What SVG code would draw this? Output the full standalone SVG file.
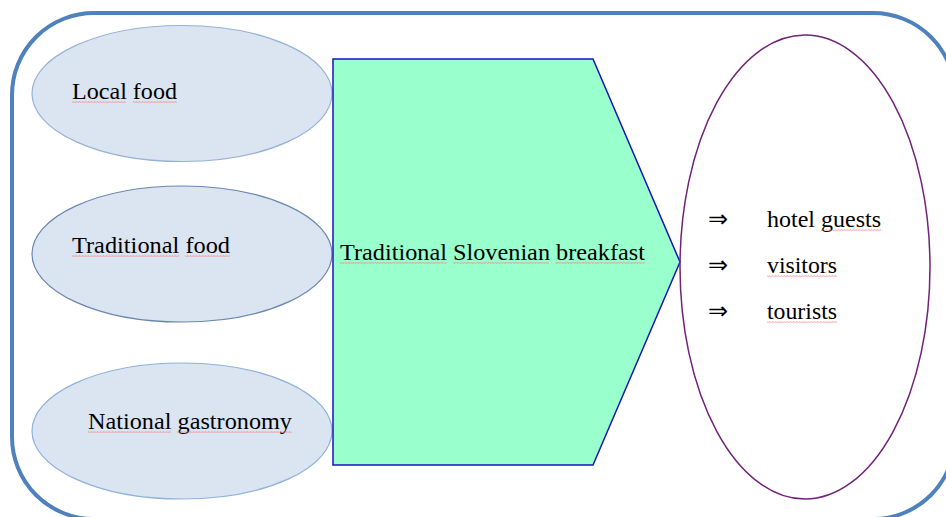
<svg xmlns="http://www.w3.org/2000/svg" width="946" height="517" viewBox="0 0 946 517">
<style>
.t{font-family:"Liberation Serif","Times New Roman",serif;font-size:24px;fill:#000}
.in{fill:#dbe5f1;stroke-width:1.2}
.sp{fill:url(#wave)}
</style>
<defs>
<pattern id="wave" x="0" y="0" width="3" height="2" patternUnits="userSpaceOnUse">
<path d="M0,1.6 L0.75,0.4 L1.5,1.6 L2.25,0.4 L3,1.6" fill="none" stroke="#ee7777" stroke-width="0.5"/>
</pattern>
</defs>
<rect width="946" height="517" fill="#fff"/>
<g id="frame">
<rect x="12" y="13" width="943" height="506" rx="82" ry="82" fill="none" stroke="#4f81bd" stroke-width="4"/>
</g>
<g id="local-food">
<ellipse cx="182" cy="93.5" rx="150" ry="68" class="in" stroke="#98b2d4"/>
<text class="t" x="72" y="99" textLength="105" lengthAdjust="spacingAndGlyphs">Local food</text>
<rect class="sp" x="72" y="101" width="54" height="2"/>
<rect class="sp" x="133" y="101" width="44" height="2"/>
</g>
<g id="traditional-food">
<ellipse cx="182" cy="254" rx="150" ry="68" class="in" stroke="#6a86b0"/>
<text class="t" x="72" y="253" textLength="158" lengthAdjust="spacingAndGlyphs">Traditional food</text>
<rect class="sp" x="72" y="255" width="107" height="2"/>
<rect class="sp" x="185" y="255" width="45" height="2"/>
</g>
<g id="national-gastronomy">
<ellipse cx="182" cy="431" rx="150" ry="68" class="in" stroke="#8fb1dc"/>
<text class="t" x="88" y="429" textLength="204" lengthAdjust="spacingAndGlyphs">National gastronomy</text>
<rect class="sp" x="88" y="431" width="83" height="2"/>
<rect class="sp" x="177" y="431" width="115" height="2"/>
</g>
<g id="breakfast">
<polygon points="333,59 593,59 680,262 593,465 333,465" fill="#99ffcc" stroke="#1515c0" stroke-width="1.5"/>
<text class="t" x="340" y="260" textLength="305" lengthAdjust="spacingAndGlyphs">Traditional Slovenian breakfast</text>
<rect class="sp" x="340" y="262" width="107" height="2"/>
<rect class="sp" x="453" y="262" width="96" height="2"/>
<rect class="sp" x="555" y="262" width="90" height="2"/>
</g>
<g id="audience">
<ellipse cx="805" cy="267" rx="125" ry="232" fill="none" stroke="#702378" stroke-width="1.5"/>
<text class="t" x="708" y="227" font-size="20">⇒</text>
<text class="t" x="708" y="273" font-size="20">⇒</text>
<text class="t" x="708" y="319" font-size="20">⇒</text>
<text class="t" x="767" y="227" textLength="114" lengthAdjust="spacingAndGlyphs">hotel guests</text>
<rect class="sp" x="821" y="229" width="60" height="2"/>
<text class="t" x="767" y="273" textLength="70" lengthAdjust="spacingAndGlyphs">visitors</text>
<rect class="sp" x="767" y="275" width="70" height="2"/>
<text class="t" x="767" y="319" textLength="70" lengthAdjust="spacingAndGlyphs">tourists</text>
<rect class="sp" x="767" y="321" width="70" height="2"/>
</g>
<g id="connectors"/>
</svg>
